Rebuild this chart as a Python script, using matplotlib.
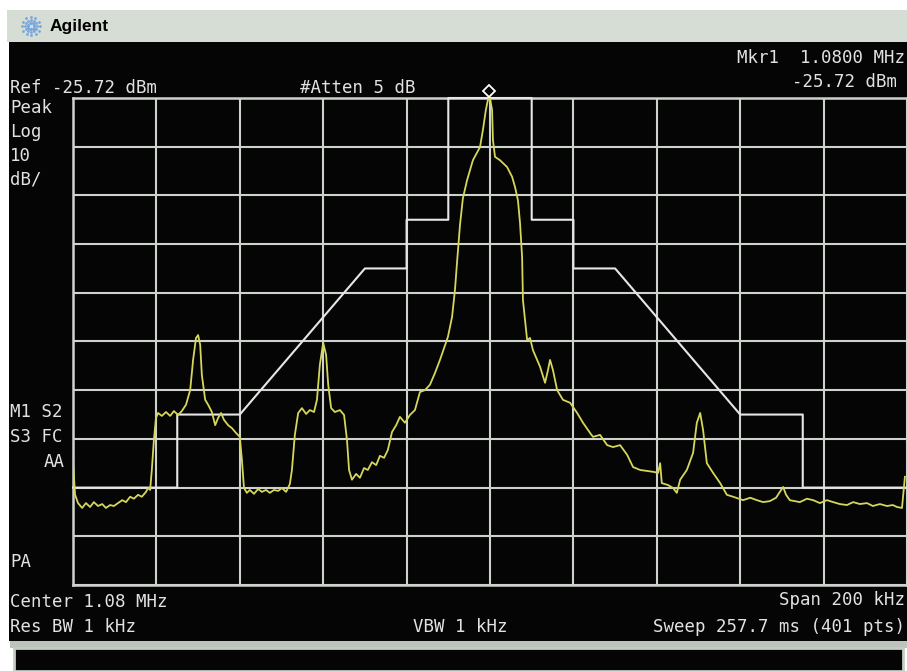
import matplotlib
matplotlib.use("Agg")
import matplotlib.pyplot as plt
import numpy as np
from matplotlib.patches import Rectangle
from matplotlib.lines import Line2D
from matplotlib.transforms import offset_copy

# Analyzer settings
ref_level = -25.72      # dBm, top of screen
db_per_div = 10
center_khz = 1080.0
span_khz = 200.0

# Trace (frequency in kHz, level in dBm)
freq_khz = [980.0, 980.5, 981.2, 982.2, 983.1, 984.1, 985.0, 986.0, 987.0, 987.9,
            988.9, 989.8, 990.8, 991.8, 992.7, 993.7, 994.6, 995.6, 996.5, 997.5,
            998.0, 998.5, 998.9, 999.4, 999.9, 1000.4, 1001.3, 1002.3, 1003.3, 1004.2,
            1005.2, 1006.1, 1007.1, 1008.1, 1008.8, 1009.5, 1010.0, 1010.5, 1010.9, 1011.7,
            1012.4, 1013.3, 1014.1, 1014.8, 1015.5, 1016.2, 1017.2, 1018.1, 1019.1, 1020.0,
            1020.5, 1021.0, 1021.7, 1022.4, 1023.4, 1024.4, 1025.3, 1026.3, 1027.2, 1028.2,
            1029.2, 1030.1, 1031.1, 1032.0, 1032.5, 1033.2, 1034.0, 1034.9, 1035.9, 1036.8,
            1037.8, 1038.5, 1039.2, 1040.0, 1040.7, 1041.2, 1041.9, 1042.8, 1044.0, 1045.0,
            1045.7, 1046.2, 1046.9, 1047.9, 1048.8, 1049.8, 1050.7, 1051.7, 1052.7, 1053.6,
            1054.6, 1055.5, 1056.5, 1057.5, 1058.4, 1059.6, 1060.8, 1062.0, 1063.2, 1064.4,
            1065.6, 1066.8, 1068.0, 1069.0, 1069.9, 1070.9, 1071.6, 1072.1, 1072.8, 1073.5,
            1074.5, 1075.9, 1077.6, 1078.3, 1079.0, 1079.5, 1080.0, 1080.5, 1080.7, 1081.2,
            1082.4, 1084.1, 1085.3, 1086.0, 1086.7, 1087.2, 1087.7, 1087.9, 1088.4, 1088.9,
            1089.6, 1090.3, 1091.3, 1092.0, 1093.2, 1093.9, 1094.4, 1095.1, 1096.1, 1097.5,
            1099.2, 1100.9, 1102.3, 1104.0, 1104.7, 1106.4, 1108.1, 1109.5, 1111.2, 1112.9,
            1114.3, 1116.0, 1117.7, 1119.3, 1120.3, 1120.8, 1121.2, 1122.7, 1123.9, 1124.8,
            1125.6, 1127.2, 1128.7, 1129.6, 1130.4, 1131.1, 1132.0, 1133.5, 1135.2, 1136.8,
            1138.3, 1140.7, 1142.4, 1144.0, 1145.5, 1147.1, 1148.6, 1149.5, 1150.3, 1151.0,
            1151.9, 1154.3, 1156.0, 1157.5, 1159.1, 1160.8, 1162.3, 1163.9, 1165.6, 1167.1,
            1168.7, 1170.4, 1171.8, 1173.5, 1175.2, 1176.6, 1177.6, 1178.8, 1179.5]

level_dbm = [-100.5, -107.2, -108.9, -109.9, -108.9, -109.7, -108.7, -109.5, -109.1, -109.9,
             -109.3, -109.5, -108.9, -108.3, -108.7, -107.6, -108.0, -107.2, -107.6, -106.6,
             -105.8, -106.2, -102.1, -95.9, -91.4, -90.4, -91.0, -90.2, -91.0, -90.0,
             -90.8, -90.0, -88.7, -85.7, -79.5, -75.0, -74.4, -76.4, -82.6, -87.7,
             -88.7, -90.2, -92.9, -91.4, -90.4, -91.8, -92.9, -93.5, -94.5, -95.3,
             -100.0, -105.8, -106.8, -106.2, -107.0, -106.0, -106.6, -106.2, -106.8, -106.2,
             -106.4, -105.8, -106.6, -105.0, -102.1, -94.9, -90.4, -89.4, -90.6, -89.8,
             -90.2, -87.7, -80.5, -76.0, -78.5, -84.6, -89.4, -90.2, -89.8, -90.8,
             -95.9, -102.1, -104.1, -102.9, -103.7, -101.7, -102.1, -100.5, -101.1, -99.2,
             -99.6, -98.0, -94.3, -92.9, -91.2, -92.4, -90.8, -89.8, -86.1, -85.7,
             -84.6, -82.2, -79.5, -77.0, -74.8, -70.7, -65.1, -59.4, -51.8, -46.3,
             -42.6, -38.5, -35.8, -32.3, -28.2, -26.1, -25.72, -28.2, -34.3, -37.8,
             -38.5, -39.9, -41.9, -44.0, -46.7, -51.4, -58.4, -67.2, -71.3, -75.4,
             -75.0, -77.5, -79.5, -80.9, -84.2, -81.6, -79.5, -81.6, -85.7, -87.7,
             -88.3, -90.4, -92.4, -94.5, -95.3, -94.9, -97.0, -97.4, -97.0, -99.0,
             -101.5, -102.1, -102.3, -102.5, -102.7, -100.7, -104.8, -105.2, -105.8, -106.8,
             -104.1, -102.1, -98.6, -92.4, -90.4, -93.9, -100.7, -102.7, -104.8, -107.2,
             -107.6, -108.3, -107.8, -108.3, -108.7, -108.5, -107.8, -106.6, -105.6, -107.2,
             -108.3, -108.7, -108.0, -108.3, -108.9, -108.3, -108.7, -109.1, -109.3, -108.7,
             -109.1, -108.9, -109.5, -109.1, -109.5, -109.3, -109.7, -109.9, -103.5]

# Spectrum emission mask, offset from center (kHz) and level relative to ref (dB)
mask_offset_khz = [-100, -75, -75, -60, -30, -20, -20, -10, -10,
                   10, 10, 20, 20, 30, 60, 75, 75, 100]
mask_rel_db = [-80, -80, -65, -65, -35, -35, -25, -25, 0,
               0, -25, -25, -35, -35, -65, -65, -80, -80]

W, H = 907, 671
fig = plt.figure(figsize=(W / 100, H / 100), dpi=100)
fig.patch.set_facecolor("white")


def fx(x):
    return x / W


def fy(y):
    return 1 - y / H


def box(x0, y0, x1, y1, **kw):
    fig.add_artist(Rectangle((fx(x0), fy(y1)), fx(x1) - fx(x0), fy(y0) - fy(y1),
                             transform=fig.transFigure, zorder=-5, **kw))


# instrument frame: header bar, black screen, bottom strip
box(7, 10, 907, 42, facecolor="#d5ddd5", edgecolor="none")
box(9, 42, 907, 641, facecolor="#050505", edgecolor="none")
box(10, 641, 907, 648, facecolor="#bcc4bc", edgecolor="none")
box(14, 648, 903, 671, facecolor="#050505", edgecolor="#c4ccc4", linewidth=2)

# Agilent spark logo
cx, cy = 31, 26
for a in np.linspace(0, 2 * np.pi, 12, endpoint=False):
    r = np.array([3.0, 6.0, 9.0])
    fig.add_artist(Line2D(fx(cx + r * np.cos(a)), fy(cy + r * np.sin(a)),
                          transform=fig.transFigure, linestyle="none", marker="o",
                          markersize=1.0, color="#7aa6dc", zorder=-4))
fig.text(fx(50), fy(26), "Agilent", family="Liberation Sans", weight="bold",
         fontsize=12.5, color="black", va="center", ha="left")

# plot area
ax = fig.add_axes([fx(73), fy(585), fx(907) - fx(73), fy(98) - fy(585)])
ax.set_zorder(2)
ax.set_facecolor("#050505")
f_lo, f_hi = center_khz - span_khz / 2, center_khz + span_khz / 2
bottom = ref_level - 10 * db_per_div
ax.set_xlim(f_lo, f_hi)
ax.set_ylim(bottom, ref_level)
ax.set_xticks(np.linspace(f_lo, f_hi, 11))
ax.set_yticks(np.linspace(bottom, ref_level, 11))
ax.tick_params(length=0, labelbottom=False, labelleft=False)
ax.grid(True, color="#cdd2cd", linewidth=1.5)
ax.set_axisbelow(True)
for s in ax.spines.values():
    s.set_color("#cdd2cd")
    s.set_linewidth(1.8)

mask_f = [center_khz + o for o in mask_offset_khz]
mask_l = [ref_level + r for r in mask_rel_db]
ax.plot(mask_f, mask_l, color="#e6e6e6", linewidth=1.5, zorder=3, clip_on=False)

ax.plot(freq_khz, level_dbm, color="#d6d65a", linewidth=1.3, zorder=4)

# marker 1 sits on the peak, drawn just above it
i_pk = int(np.argmax(level_dbm))
mk = offset_copy(ax.transData, fig=fig, x=-1, y=7, units="dots")
ax.plot([freq_khz[i_pk]], [level_dbm[i_pk]], marker="D", markersize=6,
        markerfacecolor="none", markeredgecolor="white", markeredgewidth=1.3,
        transform=mk, clip_on=False, zorder=5)

# screen annotations
mono = dict(family="DejaVu Sans Mono", fontsize=12.5, color="#e2e2e2", va="center")


def label(x, y, s, ha="left", **kw):
    d = dict(mono)
    d.update(kw)
    fig.text(fx(x), fy(y), s, ha=ha, **d)


label(10, 88, "Ref -25.72 dBm")
label(300, 88, "#Atten 5 dB")
label(905, 58, "Mkr1  1.0800 MHz", ha="right")
label(897, 82, "-25.72 dBm", ha="right")
label(10, 108, "Peak")
label(10, 132, "Log")
label(10, 156, "10")
label(10, 180, "dB/")
label(10, 412, "M1 S2")
label(10, 437, "S3 FC")
label(44, 462, "AA")
label(10, 562, "PA")
label(10, 602, "Center 1.08 MHz")
label(905, 600, "Span 200 kHz", ha="right")
label(10, 627, "Res BW 1 kHz")
label(413, 627, "VBW 1 kHz")
label(905, 627, "Sweep 257.7 ms (401 pts)", ha="right")

fig.savefig("out.png", dpi=100, facecolor=fig.get_facecolor())
